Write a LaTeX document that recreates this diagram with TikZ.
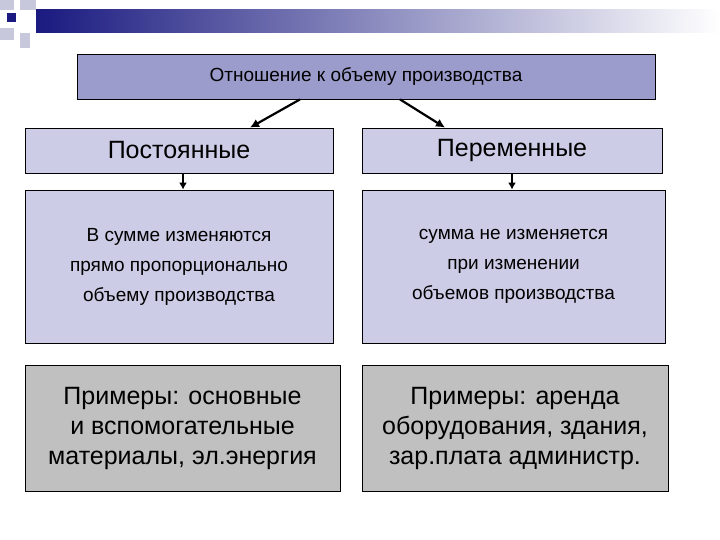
\documentclass[tikz,border=0pt]{standalone}
\usepackage{fontspec}
\setmainfont{Liberation Sans}
\usetikzlibrary{arrows.meta}
\begin{document}
\begin{tikzpicture}[x=1pt,y=-1pt,
  bx/.style={draw=black,line width=0.8pt,inner sep=0pt,align=center},
  head/.style={bx,fill=topc},
  lvl/.style={bx,fill=lightc},
  ex/.style={bx,fill=grayc},
  arr/.style={line width=2.2pt,-{Latex[length=9pt,width=9pt]}},
  darr/.style={line width=1.4pt,-{Latex[length=7pt,width=8pt]}}]
\definecolor{topc}{HTML}{9C9CCC}
\definecolor{lightc}{HTML}{CCCCE6}
\definecolor{grayc}{HTML}{C0C0C0}
\definecolor{navy}{HTML}{1A1A80}
\definecolor{pale}{HTML}{C8C8DC}
\useasboundingbox (0,0) rectangle (720,540);
\fill[white] (0,0) rectangle (720,540);
% header decoration
\shade[left color=navy,right color=white] (36,10) rectangle (720,33);
\fill[pale] (0,0) rectangle (14,10);
\fill[pale] (20,0) rectangle (36,10);
\fill[pale] (0,28) rectangle (14,40);
\fill[pale] (20,33) rectangle (30,48);
\fill[navy] (7,13) rectangle (16,22);
% boxes
\node[head,minimum width=578,minimum height=45,font=\fontsize{19}{22}\selectfont] (top) at (366,76.5) {Отношение к объему производства};
\node[lvl,minimum width=308,minimum height=45,font=\fontsize{25}{28}\selectfont] (pl) at (179,150.5) {Постоянные};
\node[lvl,minimum width=300,minimum height=45,font=\fontsize{25}{28}\selectfont] (pr) at (512,150.5) {Переменные};
\node[lvl,minimum width=308,minimum height=153,font=\fontsize{19}{30}\selectfont] (ml) at (179,266.5) {В сумме изменяются\\прямо пропорционально\\объему производства};
\node[lvl,minimum width=303,minimum height=153,font=\fontsize{19}{30}\selectfont] (mr) at (513.5,266.5) {сумма не изменяется\\при изменении\\объемов производства};
\node[ex,minimum width=315,minimum height=126,font=\fontsize{25}{30}\selectfont] (bl) at (182.5,428) {Примеры: основные\\и вспомогательные\\материалы, эл.энергия};
\node[ex,minimum width=306,minimum height=126,font=\fontsize{25}{30}\selectfont] (br) at (515,428) {Примеры: аренда\\оборудования, здания,\\зар.плата администр.};
% arrows
\draw[arr] ([xshift=-66pt]top.south) -- ([xshift=71pt]pl.north);
\draw[arr] ([xshift=34pt]top.south) -- ([xshift=-67pt]pr.north);
\draw[darr] ([xshift=4pt]pl.south) -- ([xshift=4pt]ml.north);
\draw[darr] (pr.south) -- ([xshift=-1.5pt]mr.north);
\end{tikzpicture}
\end{document}
